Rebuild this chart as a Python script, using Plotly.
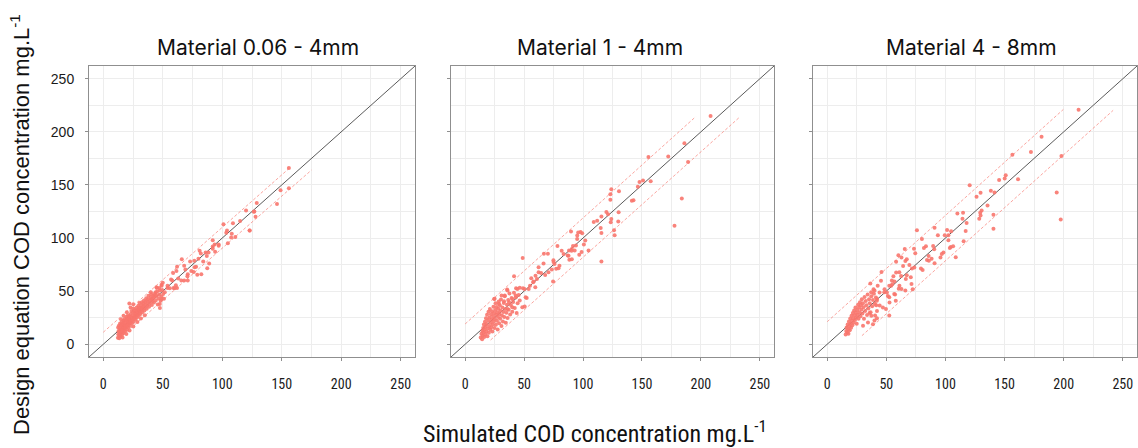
import plotly.graph_objects as go

# ---------------- data (simulated, design-equation) ----------------
P1_TITLE = "Material 0.06 - 4mm"
P2_TITLE = "Material 1 - 4mm"
P3_TITLE = "Material 4 - 8mm"

AXIS_RANGE = [-12, 262]
TICK_VALUES = [0, 50, 100, 150, 200, 250]
TICK_LABELS = ["0", "50", "100", "150", "200", "250"]

P1_POINTS = [
    (156, 166), (149, 145), (156, 147), (146, 132), (129, 133), (120, 126), (127, 125), (128, 120),
    (123, 107), (115, 116), (109, 114), (101, 113), (104, 107), (108, 104), (111, 101), (92, 98),
    (97, 94), (92, 92), (94, 87), (81, 88), (82, 85.5), (86, 86.5), (88.5, 86.5), (87, 83), (84, 78),
    (89, 76), (80, 80.5), (76.5, 78.6), (73, 78), (66, 80), (68, 74), (62, 73), (69, 70.5), (78, 73),
    (76, 68), (71, 66), (79, 65.5), (71, 60), (68, 60), (63, 62), (58, 60), (61, 55.5), (62, 53),
    (59, 53), (54, 55), (54, 53), (49, 55), (47, 53), (45, 53), (44, 49), (40, 49),
    (61.5, 69), (58.7, 67), (57, 61), (50, 58), (49, 56), (44.7, 53.6), (43.3, 45.8), (47.5, 50.5),
    (40.5, 42.6), (49, 42.6), (47.5, 38), (51.7, 49), (55.9, 52.7), (60, 52.7), (65.6, 60), (70.7, 64),
    (74, 69), (76.8, 72.4), (82.4, 66), (87.4, 71.5), (92, 90), (93.6, 94), (97, 92.8), (103.4, 105),
    (104.7, 95), (107.5, 100.6), (123, 107), (126.5, 124.8),
    (12.3, 6.1), (12.6, 9.4), (12.8, 12.2), (12.5, 15.8), (13.1, 17.5), (13.4, 5.6), (13.6, 8.3),
    (13.9, 11.1), (13.7, 13.9), (14.2, 16.4), (14.1, 19.6), (14.6, 7.4), (14.8, 10.2), (15.1, 12.8),
    (15.3, 15.1), (15.0, 18.2), (15.5, 20.7), (15.8, 9.1), (16.1, 11.7), (16.3, 14.2), (16.6, 16.8),
    (16.4, 19.3), (16.9, 22.4), (17.2, 10.6), (17.4, 13.3), (17.6, 15.9), (17.8, 18.4), (17.3, 21.0),
    (18.1, 23.8), (18.4, 12.5), (18.6, 15.2), (18.9, 17.6), (18.7, 20.1), (19.2, 22.6), (19.5, 25.9),
    (19.7, 14.0), (20.0, 16.7), (20.2, 19.3), (20.5, 21.5), (20.3, 24.1), (20.8, 27.2), (21.1, 15.8),
    (21.4, 18.9), (21.6, 21.2), (21.9, 38.4), (21.8, 23.7), (22.2, 26.3), (22.5, 17.4), (22.7, 20.6),
    (23.0, 23.1), (23.3, 25.4), (23.1, 28.6), (23.6, 31.2), (24.0, 19.8), (24.3, 22.5), (24.6, 25.0),
    (24.8, 27.3), (25.1, 30.4), (25.4, 33.6), (25.6, 21.3), (25.9, 24.2), (26.2, 26.7), (26.5, 29.3),
    (26.3, 32.1), (27.0, 23.4), (27.3, 26.0), (27.5, 28.8), (27.8, 31.5), (28.1, 34.6), (28.4, 25.1),
    (28.6, 27.9), (28.9, 30.3), (29.2, 32.9), (29.5, 36.2), (29.8, 26.8), (30.1, 29.6), (30.4, 32.0),
    (30.7, 34.5), (30.5, 38.9), (31.2, 28.4), (31.5, 31.3), (31.8, 33.7), (32.1, 36.4), (32.4, 39.5),
    (32.8, 30.2), (33.1, 33.0), (33.5, 35.8), (33.8, 38.3), (34.2, 41.2), (34.6, 31.9), (35.0, 34.6),
    (35.3, 37.5), (35.7, 40.1), (36.1, 43.3), (36.5, 33.4), (36.9, 36.6), (37.3, 39.8), (37.6, 42.4),
    (38.0, 45.6), (38.5, 35.2), (38.9, 38.7), (39.4, 41.5), (39.8, 44.2), (40.3, 47.1), (40.8, 36.9),
    (41.2, 40.3), (41.7, 43.1), (42.1, 46.0), (42.6, 39.2), (43.0, 44.5), (43.5, 47.8), (44.1, 41.3),
    (44.6, 45.7), (45.2, 49.5), (45.8, 37.4), (46.3, 43.0), (47.0, 46.6), (47.6, 34.1), (48.2, 40.9),
    (48.9, 44.8), (49.5, 51.2), (50.3, 47.3), (51.0, 42.8),
    (14.9, 23.5), (17.0, 26.8), (19.8, 30.2), (22.9, 34.7), (25.2, 37.6), (16.2, 6.3), (19.4, 9.7),
    (22.1, 12.9), (25.3, 16.8), (28.7, 20.9), (31.6, 24.3), (34.9, 27.4),
]

P2_POINTS = [
    (208.2, 214.9), (186, 189.2), (189.1, 171.6), (172.3, 176.7), (155.5, 176.4), (183.8, 137.2),
    (177.6, 111.5), (157.4, 153.5), (150.9, 154.1), (147.9, 152.8), (146.5, 148.4), (142.8, 135.5),
    (141.4, 135.2), (130.5, 144.1), (124, 146), (123.2, 141.3), (123.2, 136), (130.2, 124.3),
    (129.9, 115.6), (126.8, 102.7), (126.3, 107.4), (121.2, 122.4), (119.8, 124.6), (115.6, 120.2),
    (112, 116.2), (109.1, 115.2), (124, 117.9), (123.5, 114.8), (115, 109.5), (115.6, 104.8),
    (115.6, 78), (97.9, 105.8), (95.9, 105.2), (99.3, 104.6), (89.8, 106.1), (95.1, 102.3),
    (101.9, 97.6), (100.7, 93.9), (95, 99.2), (94, 93), (91.5, 92.4), (90.3, 88), (88.1, 88.3),
    (92.9, 88.3), (98.8, 86.8), (96.8, 84.2), (104.7, 88.3), (87, 83.6), (88.4, 79.6), (81.9, 88),
    (78.3, 92.4), (70.2, 85.2), (66.8, 85.2), (66.5, 76.1), (62.3, 72.6), (48.8, 81.1), (74.9, 79),
    (75.8, 75.6), (79.2, 71.5), (77.2, 71), (73.5, 70.3), (70.7, 67.8), (67.9, 65.3), (74.6, 59.1),
    (62.3, 67.8), (60.9, 61.5), (58.1, 59.1), (56.1, 62.2), (59.5, 53.7), (53.9, 52.1), (49.1, 52.7),
    (46.3, 53.3), (43.2, 52.7), (50.5, 35.5), (52.2, 43.6), (41.5, 64.1), (35.6, 51.5), (30.9, 45.9),
    (25, 42.8), (28.6, 38.1), (75, 77.4), (80, 74), (83.5, 85), (90.5, 80), (87.7, 83.4), (90.5, 89.7),
    (64.4, 67), (59.7, 64.6), (55, 55), (57.7, 58.3), (50.4, 52), (51.3, 44.2), (44.3, 52), (42.9, 45.8),
    (35.9, 50.5), (33.6, 45.8), (33, 40.4), (37.3, 39.5), (40, 42.6), (48.5, 34.8), (40, 34.8),
    (35.9, 33.2), (24.6, 42.6),
    (13.2, 6.3), (13.8, 9.8), (14.4, 4.6), (14.6, 12.7), (14.9, 8.1), (15.3, 15.4), (15.6, 11.2),
    (15.9, 18.6), (16.2, 6.9), (16.5, 13.8), (16.8, 21.3), (17.1, 9.5), (17.3, 16.7), (17.7, 24.5),
    (18.0, 12.1), (18.3, 19.0), (18.6, 27.8), (18.9, 7.6), (19.2, 14.9), (19.5, 22.4), (19.8, 30.6),
    (20.1, 10.8), (20.4, 17.3), (20.7, 25.1), (21.0, 33.2), (21.3, 13.6), (21.6, 20.2), (21.9, 28.3),
    (22.2, 16.1), (22.5, 23.4), (22.8, 31.0), (23.1, 11.9), (23.4, 18.7), (23.7, 26.2), (24.0, 35.4),
    (24.3, 21.4), (24.6, 29.1), (24.9, 15.2), (25.2, 24.0), (25.5, 32.3), (25.8, 38.6), (26.1, 18.4),
    (26.4, 27.5), (26.7, 35.0), (27.0, 22.1), (27.3, 30.1), (27.6, 13.8), (27.9, 25.6), (28.2, 33.4),
    (28.5, 40.3), (28.8, 19.7), (29.1, 28.4), (29.4, 36.7), (29.7, 23.9), (30.0, 31.6), (30.4, 42.1),
    (30.8, 17.2), (31.2, 27.0), (31.6, 34.5), (32.0, 21.5), (32.4, 30.3), (32.8, 38.9), (33.2, 25.7),
    (33.6, 45.2), (34.0, 33.1), (34.5, 20.3), (35.0, 29.6), (35.5, 37.2), (36.0, 24.8), (36.5, 41.6),
    (37.0, 32.4), (37.6, 47.8), (38.2, 28.1), (38.8, 36.9), (39.4, 43.5), (40.0, 30.7), (40.7, 39.8),
    (41.4, 48.6), (42.1, 34.2), (42.9, 44.0), (43.7, 29.5), (44.5, 38.6), (45.4, 46.3), (46.3, 41.2),
]

P3_POINTS = [
    (212.6, 220.9), (181.3, 195.5), (198.1, 177.3), (172.3, 181), (156.6, 178.5), (194.1, 142.9),
    (197.5, 117.5), (161.4, 155.4), (151, 159.1), (150.1, 156), (145.4, 154.7), (120.5, 149.7),
    (141.5, 142.9), (138.4, 144.5), (129.7, 142.6), (126.3, 138.9), (135.6, 130.7), (130.6, 126),
    (129.4, 123.8), (128.6, 118.2), (129.7, 121.3), (140.6, 121.9), (140.6, 108.7), (114.9, 123.8),
    (114.4, 118.2), (117.9, 114.1), (117.1, 106.6), (110.1, 123.1), (115.4, 96.9), (108.7, 81.9),
    (104.8, 106.3), (101.4, 107.6), (99.4, 102.6), (102.5, 102.6), (102.5, 97.9), (104.5, 91.6),
    (106.5, 92.2), (103.7, 90.7), (98.3, 86.3), (96.9, 85.1), (95.8, 81.6), (93.6, 102.6), (90.8, 109.8),
    (89.6, 92.5), (90.5, 89.4), (88.3, 80.6), (85.8, 83.1), (83.5, 92.2), (81.8, 90.7), (80.1, 99.2),
    (75.9, 107.3), (73.4, 90), (74.5, 85.7), (84.4, 79.4), (90.8, 76.3), (79.3, 71.3), (80.7, 70),
    (73.7, 72.2), (67.3, 80.1), (66.1, 78.5), (60.2, 83.8), (58.3, 77.8), (64.2, 73.7), (69.5, 74.7),
    (71.7, 71.3), (67.3, 65), (62.5, 64.3), (58.3, 67.5), (56.9, 59), (55, 56.4), (48.5, 51.7),
    (45.9, 68.1), (51.3, 45.5), (72.3, 51.7), (66.1, 50.7), (60.5, 52.3), (41.5, 36.8), (42.1, 31.2),
    (38.7, 18.9), (36.5, 57.3), (39.2, 51.8), (44.3, 48.8), (50.5, 48.8), (54.1, 55), (61.1, 55),
    (57.4, 46.9), (52.7, 39.3), (47.1, 34.7), (37.3, 26.9), (42.1, 24.4), (34.5, 20.6), (30.3, 17.5),
    (65.6, 89.7), (62.8, 81.8), (86, 78.7), (54.7, 60), (52.5, 55), (56, 64), (61, 67.7), (66.5, 61.4),
    (70.7, 63), (71.3, 56.7), (62.8, 52), (56.7, 47.3), (58, 41), (52.5, 44.2), (48.3, 48.9), (40, 50.5),
    (42.7, 55.2), (45.5, 59.9), (37.2, 48.9), (42.2, 42.6), (44.4, 36.4), (49.7, 33.2), (52.5, 27),
    (40, 22.3), (40.5, 27), (35.8, 29.5),
    (15.6, 9.3), (16.1, 12.5), (16.4, 15.8), (16.9, 11.0), (17.3, 18.6), (17.7, 14.2), (18.0, 9.8),
    (18.4, 21.5), (18.8, 16.9), (19.1, 13.1), (19.5, 24.2), (19.9, 19.4), (20.2, 15.6), (20.6, 26.8),
    (21.0, 22.1), (21.3, 17.9), (21.7, 29.4), (22.1, 24.6), (22.4, 20.3), (22.8, 31.9), (23.2, 27.2),
    (23.5, 22.8), (23.9, 34.5), (24.3, 29.6), (24.6, 25.3), (25.0, 19.4), (25.4, 32.2), (25.8, 27.7),
    (26.1, 37.1), (26.5, 23.9), (26.9, 34.6), (27.3, 30.2), (27.7, 39.5), (28.1, 26.4), (28.5, 36.8),
    (28.9, 32.7), (29.3, 42.3), (29.8, 28.9), (30.2, 38.5), (30.7, 34.9), (31.1, 24.1), (31.6, 44.6),
    (32.1, 31.2), (32.6, 40.7), (33.1, 36.8), (33.7, 27.5), (34.2, 46.9), (34.8, 33.6), (35.4, 42.4),
    (36.0, 38.6), (36.7, 30.1), (37.3, 45.3), (38.0, 35.8), (38.7, 41.7), (39.5, 47.6), (40.3, 38.2),
    (41.2, 44.0), (42.0, 40.9),
]

# prediction-interval dashed lines: (x, y) at start and end
P1_UPPER = [(0, 11.3), (156.3, 165.7)]
P1_LOWER = [(13.4, 5.6), (175, 164)]
P2_UPPER = [(0, 19.1), (195.6, 214.3)]
P2_LOWER = [(21.6, 4.0), (232.9, 213.9)]
P3_UPPER = [(0, 21.2), (199.7, 221.1)]
P3_LOWER = [(29.4, 8.1), (241.8, 220.2)]

# 1:1 reference line
IDENTITY = [AXIS_RANGE[0], AXIS_RANGE[1]]

X_TITLE = "Simulated COD concentration mg.L<sup>-1</sup>"
Y_TITLE = "Design equation COD concentration mg.L<sup>-1</sup>"

# ---------------- styling ----------------
W, H = 1138, 448
PT_COLOR = "#F8766D"
DASH_COLOR = "rgba(248,118,109,0.65)"
GRID = "#EDEDED"
BOX = "#8F8F8F"
NARROW = "Liberation Sans Narrow, Roboto Condensed, Arial Narrow, sans-serif"

panels = [
    (P1_POINTS, P1_UPPER, P1_LOWER, (89, 415)),
    (P2_POINTS, P2_UPPER, P2_LOWER, (451, 774)),
    (P3_POINTS, P3_UPPER, P3_LOWER, (813, 1137)),
]
titles = [(P1_TITLE, 258), (P2_TITLE, 600), (P3_TITLE, 971)]
Y_TOP, Y_BOT = 66, 357

fig = go.Figure()
for i, (pts, up, lo, dom) in enumerate(panels, start=1):
    xa = "x" if i == 1 else f"x{i}"
    ya = "y" if i == 1 else f"y{i}"
    fig.add_trace(go.Scatter(x=IDENTITY, y=IDENTITY, mode="lines", xaxis=xa, yaxis=ya,
                             line=dict(color="#5a5a5a", width=1), hoverinfo="skip", showlegend=False))
    for seg in (up, lo):
        fig.add_trace(go.Scatter(x=[p[0] for p in seg], y=[p[1] for p in seg], mode="lines",
                                 xaxis=xa, yaxis=ya,
                                 line=dict(color=DASH_COLOR, width=1, dash="3px,2px"),
                                 hoverinfo="skip", showlegend=False))
    fig.add_trace(go.Scatter(x=[p[0] for p in pts], y=[p[1] for p in pts], mode="markers",
                             xaxis=xa, yaxis=ya,
                             marker=dict(color=PT_COLOR, size=4, opacity=0.9, line=dict(width=0)),
                             showlegend=False))

    xdom = [dom[0] / W, dom[1] / W]
    ydom = [1 - Y_BOT / H, 1 - Y_TOP / H]
    common = dict(range=AXIS_RANGE, showline=True, mirror=True, linecolor=BOX, linewidth=1,
                  showgrid=True, gridcolor=GRID, gridwidth=1, zeroline=False,
                  ticks="outside", ticklen=3, tickcolor=BOX,
                  tickvals=TICK_VALUES, ticktext=TICK_LABELS,
                  minor=dict(tickvals=[25, 75, 125, 175, 225], showgrid=True, gridcolor=GRID, ticks=""))
    xkey = "xaxis" if i == 1 else f"xaxis{i}"
    ykey = "yaxis" if i == 1 else f"yaxis{i}"
    fig.layout[xkey] = dict(common, domain=xdom, anchor=ya,
                            tickfont=dict(family=NARROW, size=14, color="#1a1a1a"),
                            ticklabelstandoff=11)
    fig.layout[ykey] = dict(common, domain=ydom, anchor=xa,
                            showticklabels=(i == 1),
                            tickfont=dict(family="Liberation Sans, Arial, sans-serif", size=14, color="#1a1a1a"),
                            ticklabelstandoff=8)

annotations = []
for t, cx in titles:
    annotations.append(dict(text=t, x=cx / W, y=1 - 47 / H, xref="paper", yref="paper",
                            showarrow=False, xanchor="center", yanchor="middle",
                            font=dict(family="Inter, Open Sans, sans-serif", size=21, color="#111111")))
annotations.append(dict(text=X_TITLE, x=595 / W, y=1 - 432 / H, xref="paper", yref="paper",
                        showarrow=False, xanchor="center", yanchor="middle",
                        font=dict(family=NARROW, size=24, color="#111111")))
annotations.append(dict(text=Y_TITLE, x=20 / W, y=1 - 225 / H, xref="paper", yref="paper",
                        showarrow=False, xanchor="center", yanchor="middle", textangle=-90,
                        font=dict(family="Liberation Sans, Arial, sans-serif", size=22, color="#111111")))

fig.update_layout(width=W, height=H, margin=dict(l=0, r=0, t=0, b=0),
                  paper_bgcolor="white", plot_bgcolor="white", annotations=annotations)

fig.write_html("out.html", config={"displayModeBar": False},
               post_script="document.body.style.margin='0';document.body.style.overflow='hidden';")
